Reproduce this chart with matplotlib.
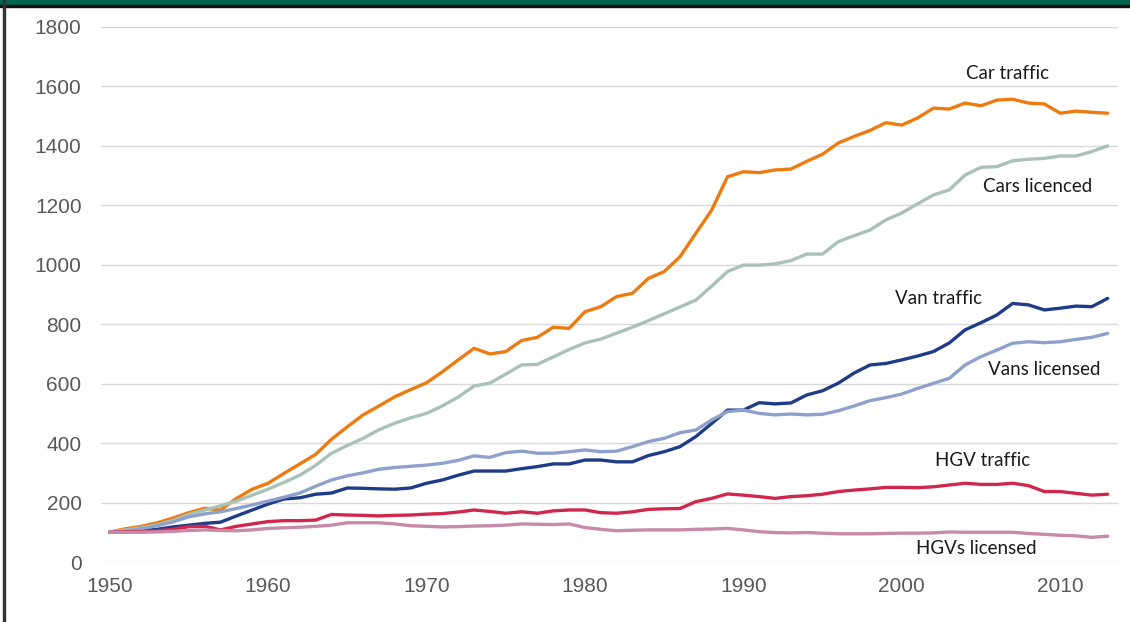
import numpy as np
import matplotlib.pyplot as plt
from matplotlib.patches import Rectangle

# index values, 1950 = 100
years = list(range(1950, 2014))

car_traffic = [100, 112, 120, 132, 148, 166, 181, 175, 214, 245,
               265, 298, 330, 362, 413, 455, 495, 525, 556, 580,
               603, 640, 680, 719, 700, 708, 745, 756, 790, 786,
               842, 859, 893, 904, 954, 977, 1027, 1106, 1184, 1296,
               1313, 1310, 1319, 1322, 1348, 1372, 1410, 1432, 1452, 1478,
               1470, 1494, 1527, 1524, 1544, 1535, 1554, 1557, 1544, 1541,
               1510, 1517, 1513, 1510]
cars_licenced = [100, 108, 115, 125, 140, 160, 175, 189, 205, 225,
                 245, 268, 292, 325, 366, 392, 416, 445, 467, 485,
                 500, 525, 555, 592, 602, 632, 663, 665, 690, 715,
                 737, 750, 770, 790, 812, 835, 858, 881, 928, 977,
                 999, 999, 1003, 1014, 1036, 1036, 1078, 1098, 1117, 1151,
                 1174, 1205, 1235, 1252, 1302, 1328, 1330, 1350, 1355, 1358,
                 1366, 1366, 1381, 1400]
van_traffic = [100, 102, 106, 110, 118, 124, 130, 134, 155, 175,
               195, 212, 216, 228, 232, 249, 248, 246, 245, 249,
               265, 276, 292, 306, 306, 306, 314, 321, 330, 330,
               343, 343, 337, 337, 358, 371, 388, 422, 466, 511,
               511, 536, 532, 535, 562, 576, 602, 636, 663, 668,
               680, 693, 708, 737, 781, 805, 831, 870, 865, 848,
               854, 861, 859, 887]
vans_licensed = [100, 105, 112, 122, 135, 152, 162, 169, 180, 192,
                 205, 218, 232, 255, 276, 290, 300, 312, 318, 322,
                 326, 332, 342, 357, 352, 368, 373, 366, 366, 371,
                 377, 371, 373, 388, 405, 416, 435, 444, 478, 506,
                 511, 500, 495, 498, 495, 497, 509, 525, 543, 553,
                 565, 584, 601, 618, 663, 691, 713, 736, 741, 738,
                 741, 749, 756, 769]
hgv_traffic = [100, 102, 102, 105, 110, 119, 120, 108, 120, 128,
               136, 139, 139, 141, 160, 158, 157, 155, 157, 158,
               161, 163, 168, 175, 170, 164, 169, 164, 172, 175,
               175, 166, 164, 169, 177, 179, 180, 203, 214, 229,
               225, 220, 214, 220, 223, 228, 237, 242, 246, 251,
               251, 250, 253, 259, 265, 261, 261, 265, 257, 237,
               237, 231, 225, 228]
hgvs_licensed = [100, 100, 100, 101, 103, 106, 108, 106, 105, 108,
                 113, 115, 117, 120, 124, 132, 132, 132, 128, 122,
                 120, 118, 119, 121, 122, 124, 128, 127, 126, 128,
                 116, 110, 105, 107, 108, 108, 108, 110, 111, 113,
                 108, 102, 99, 98, 99, 97, 95, 95, 95, 96,
                 97, 97, 98, 101, 100, 100, 100, 100, 96, 93,
                 90, 88, 83, 87]

series = [
    (car_traffic, "#ee7b10"),
    (cars_licenced, "#a8c3b6"),
    (van_traffic, "#1f3c88"),
    (vans_licensed, "#8ea1cd"),
    (hgv_traffic, "#d0284c"),
    (hgvs_licensed, "#c78aaa"),
]

labels = ["Car traffic", "Cars licenced", "Van traffic",
          "Vans licensed", "HGV traffic", "HGVs licensed"]
label_x = [2006.7, 2008.6, 2002.3, 2009.0, 2005.1, 2004.7]
label_y = [1645, 1265, 888, 646, 340, 47]

fig = plt.figure(figsize=(11.3, 6.22), dpi=100)
ax = fig.add_axes([101 / 1130, 1 - 562 / 622, (1118 - 101) / 1130, (562 - 27) / 622])

for values, color in series:
    ax.plot(years, values, color=color, lw=2.4, solid_capstyle="round", zorder=3)

for text, x, y in zip(labels, label_x, label_y):
    ax.text(x, y, text, ha="center", va="center", fontsize=13.5,
            family="Lato", color="#1a1a1a", zorder=4)

ax.set_xlim(1949.45, 2013.65)
ax.set_ylim(0, 1800)
ax.set_yticks(range(0, 1801, 200))
ax.set_xticks(range(1950, 2011, 10))
ax.grid(axis="y", color="#d9d9d9", lw=1, zorder=0)
ax.tick_params(length=0, labelsize=15, labelcolor="#595959")
ax.tick_params(axis="y", pad=14)
ax.tick_params(axis="x", pad=11)
for lab in ax.get_xticklabels() + ax.get_yticklabels():
    lab.set_family("Liberation Sans")
for s in ax.spines.values():
    s.set_visible(False)

# frame pieces: green bar on top, dark rules
fig.patches.append(Rectangle((0, 1 - 5 / 622), 1, 5 / 622, transform=fig.transFigure,
                             color="#00664f", zorder=0))
fig.patches.append(Rectangle((0, 1 - 7 / 622), 1, 2 / 622, transform=fig.transFigure,
                             color="#111111", zorder=0))
fig.patches.append(Rectangle((3 / 1130, 0), 2 / 1130, 1, transform=fig.transFigure,
                             color="#333333", zorder=0))

fig.savefig("out.png", dpi=100)
